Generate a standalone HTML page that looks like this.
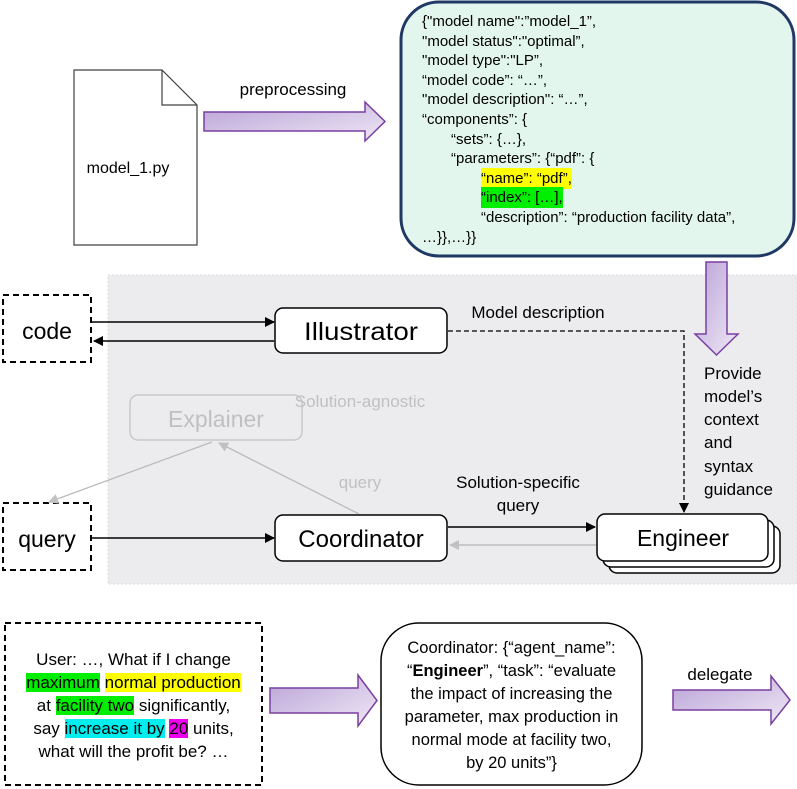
<!DOCTYPE html>
<html><head><meta charset="utf-8"><style>
html,body{margin:0;padding:0;background:#fff}
body{position:relative;width:797px;height:789px;overflow:hidden}
svg{display:block;position:absolute;left:0;top:0}
text{font-family:"Liberation Sans",sans-serif;fill:#000}
.t{position:absolute;font-family:"Liberation Sans",sans-serif;color:#000;white-space:nowrap}
.y{background:#ffff00}.g{background:#00ee00}.c{background:#00eeee}.m{background:#ee00ee}
.j .y,.j .g{padding:2px 0}
</style></head><body>
<svg width="797" height="789" viewBox="0 0 797 789" xmlns="http://www.w3.org/2000/svg">
<defs>
<linearGradient id="pg" x1="0" y1="0" x2="1" y2="1">
<stop offset="0" stop-color="#b9a2d6"/><stop offset="1" stop-color="#efe8f6"/>
</linearGradient>
<marker id="ah" markerWidth="10" markerHeight="10" refX="9" refY="5" orient="auto" markerUnits="userSpaceOnUse">
<path d="M0,0 L10,5 L0,10 z" fill="#000"/></marker>
<marker id="ag" markerWidth="10" markerHeight="10" refX="9" refY="5" orient="auto" markerUnits="userSpaceOnUse">
<path d="M0,0 L10,5 L0,10 z" fill="#c0c0c0"/></marker>
</defs>

<rect x="108" y="275" width="689" height="309" fill="#ececee" stroke="#dcdcdc" stroke-dasharray="2,2"/>

<path d="M74,70 L162,70 L197,105 L197,245 L74,245 Z" fill="#fff" stroke="#404040" stroke-width="1.2"/>
<path d="M162,70 L162,105 L197,105" fill="none" stroke="#404040" stroke-width="1.2"/>
<text x="128" y="173" font-size="16" text-anchor="middle">model_1.py</text>

<text x="293" y="95" font-size="17" text-anchor="middle">preprocessing</text>
<path d="M204,112 L365,112 L365,102 L385,121.5 L365,141 L365,131 L204,131 Z" fill="url(#pg)" stroke="#7a3fa0" stroke-width="1.5"/>

<rect x="401" y="2" width="393" height="254" rx="38" fill="#e3f6ee" stroke="#1f3864" stroke-width="3"/>

<path d="M706,262 L727,262 L727,334 L738,334 L716.5,355 L695,334 L706,334 Z" fill="url(#pg)" stroke="#7a3fa0" stroke-width="1.5"/>

<rect x="3" y="295" width="88" height="67" fill="#fff" stroke="#000" stroke-width="2" stroke-dasharray="6,4"/>
<text x="47" y="339" font-size="23" text-anchor="middle">code</text>
<rect x="3" y="503" width="88" height="67" fill="#fff" stroke="#000" stroke-width="2" stroke-dasharray="6,4"/>
<text x="47" y="547" font-size="23" text-anchor="middle">query</text>

<line x1="92" y1="322" x2="274" y2="322" stroke="#000" stroke-width="1.5" marker-end="url(#ah)"/>
<line x1="274" y1="341" x2="94" y2="341" stroke="#000" stroke-width="1.5" marker-end="url(#ah)"/>

<rect x="275" y="308" width="172" height="45" rx="8" fill="#fff" stroke="#000" stroke-width="1.5"/>
<text x="361" y="340" font-size="25" text-anchor="middle" textLength="114" lengthAdjust="spacingAndGlyphs">Illustrator</text>
<text x="538" y="318" font-size="17" text-anchor="middle">Model description</text>
<path d="M448,331 L684,331 L684,512" fill="none" stroke="#000" stroke-width="1.3" stroke-dasharray="5,3" marker-end="url(#ah)"/>
<g font-size="17"><text x="704" y="379">Provide</text><text x="704" y="402">model’s</text><text x="704" y="425">context</text><text x="704" y="448">and</text><text x="704" y="472">syntax</text><text x="704" y="495">guidance</text></g>

<rect x="130" y="395" width="172" height="45" rx="8" fill="none" stroke="#c8c8c8" stroke-width="1.5"/>
<text x="216" y="427" font-size="23" style="fill:#c0c0c0" text-anchor="middle">Explainer</text>
<line x1="212" y1="442" x2="49" y2="502" stroke="#bbb" stroke-width="1.3" marker-end="url(#ag)"/>
<line x1="359" y1="514" x2="219" y2="443" stroke="#bbb" stroke-width="1.3" marker-end="url(#ag)"/>
<g font-size="17" text-anchor="middle"><text x="360" y="407" style="fill:#c0c0c0">Solution-agnostic</text><text x="360" y="488" style="fill:#c0c0c0">query</text></g>

<line x1="92" y1="538" x2="274" y2="538" stroke="#000" stroke-width="1.5" marker-end="url(#ah)"/>

<rect x="275" y="515" width="172" height="46" rx="8" fill="#fff" stroke="#000" stroke-width="1.5"/>
<text x="361" y="547" font-size="24" text-anchor="middle">Coordinator</text>
<g font-size="17" text-anchor="middle"><text x="518" y="488">Solution-specific</text><text x="518" y="511">query</text></g>
<line x1="448" y1="527" x2="595" y2="527" stroke="#000" stroke-width="1.5" marker-end="url(#ah)"/>
<line x1="596" y1="545" x2="450" y2="545" stroke="#bbb" stroke-width="1.5" marker-end="url(#ag)"/>

<rect x="609" y="526" width="171" height="47" rx="8" fill="#fff" stroke="#000" stroke-width="1.5"/>
<rect x="603" y="520" width="171" height="47" rx="8" fill="#fff" stroke="#000" stroke-width="1.5"/>
<rect x="597" y="514" width="171" height="47" rx="8" fill="#fff" stroke="#000" stroke-width="1.5"/>
<text x="683" y="546" font-size="23" text-anchor="middle">Engineer</text>

<rect x="5" y="623" width="257" height="162" fill="#fff" stroke="#000" stroke-width="2" stroke-dasharray="6,4"/>

<path d="M270,688 L358,688 L358,675 L377,700.5 L358,726 L358,713 L270,713 Z" fill="url(#pg)" stroke="#7a3fa0" stroke-width="1.5"/>

<rect x="381" y="623" width="261" height="162" rx="38" fill="#fff" stroke="#000" stroke-width="1.5"/>

<text x="720" y="680" font-size="17" text-anchor="middle">delegate</text>
<path d="M673,690 L771,690 L771,676 L790,700 L771,724 L771,710 L673,710 Z" fill="url(#pg)" stroke="#7a3fa0" stroke-width="1.5"/>
</svg>

<div class="t j" style="left:422px;top:12px;font-size:15px;line-height:19.6px">
{"model name":”model_1”,<br>"model status":"optimal”,<br>"model type":"LP”,<br>“model code”: “…”,<br>"model description": “…”,<br>“components”: {<br>
<span style="padding-left:29px">“sets”: {…},</span><br>
<span style="padding-left:29px">“parameters”: {“pdf”: {</span><br>
<span style="padding-left:59px"><span class="y">“name”: “pdf”,</span></span><br>
<span style="padding-left:59px"><span class="g">“index”: […],</span></span><br>
<span style="padding-left:59px">“description”: “production facility data”,</span><br>
…}},…}}
</div>

<div class="t" style="left:5px;width:257px;top:648px;font-size:17px;line-height:23px;text-align:center">
User: …, What if I change<br>
<span class="g">maximum</span> <span class="y">normal production</span><br>
at <span class="g">facility two</span> significantly,<br>
say <span class="c">increase it by</span> <span class="m">20</span> units,<br>
what will the profit be? …
</div>

<div class="t" style="left:381px;width:261px;top:637px;font-size:16.5px;line-height:23px;text-align:center">
Coordinator: {“agent_name”:<br>
“<b>Engineer</b>”, “task”: “evaluate<br>
the impact of increasing the<br>
parameter, max production in<br>
normal mode at facility two,<br>
by 20 units”}
</div>
</body></html>
